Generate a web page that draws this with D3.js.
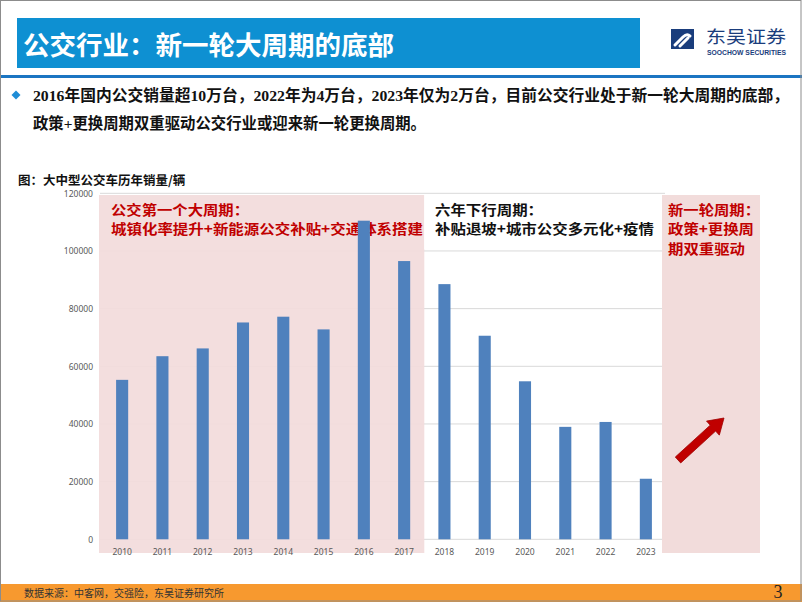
<!DOCTYPE html>
<html><head><meta charset="utf-8">
<script src="https://cdn.jsdelivr.net/npm/d3@7"></script>
<style>body{margin:0;background:#fff}svg{display:block}</style>
</head><body>
<svg id="c" width="802" height="602"></svg>
<script>
const years = ["2010","2011","2012","2013","2014","2015","2016","2017","2018","2019","2020","2021","2022","2023"];
const sales = [55300,63500,66200,75200,77200,72800,110500,96500,88500,70600,54800,39000,40700,21000];
const yTicks = [0,20000,40000,60000,80000,100000,120000];
const titleText = "公交行业：新一轮大周期的底部";
const bulletLines = ["2016年国内公交销量超10万台，2022年为4万台，2023年仅为2万台，目前公交行业处于新一轮大周期的底部，","政策+更换周期双重驱动公交行业或迎来新一轮更换周期。"];
const caption = "图：大中型公交车历年销量/辆";
const note1 = ["公交第一个大周期：","城镇化率提升+新能源公交补贴+交通体系搭建"];
const note1Widths = [138, 312];
const note2 = ["六年下行周期：","补贴退坡+城市公交多元化+疫情"];
const note2Widths = [108, 219];
const note3 = ["新一轮周期：","政策+更换周","期双重驱动"];
const note3Widths = [92, 86, 77];
const source = "数据来源：中客网，交强险，东吴证券研究所";

const svg = d3.select("#c");
const CJK = "'Noto Sans CJK SC','Noto Sans',sans-serif";
const MIX = "'Liberation Serif','Noto Sans CJK SC',serif";

svg.append("rect").attr("width",802).attr("height",602).attr("fill","#fff");

// header
svg.append("rect").attr("x",17).attr("y",18).attr("width",623).attr("height",50).attr("fill","#0e90d2");
svg.append("text").attr("x",23).attr("y",55).attr("font-family",CJK).attr("font-weight","bold")
  .attr("font-size",26.5).attr("fill","#fff").text(titleText);
svg.append("rect").attr("x",0).attr("y",75).attr("width",802).attr("height",3).attr("fill","#1b75c2");

// logo
const lg = svg.append("g");
lg.append("rect").attr("x",671).attr("y",29).attr("width",23).attr("height",20).attr("fill","#1a3d7c");
lg.append("path").attr("d","M675,45 L683,37 Q687,33 690,36 M680,46 L688,38")
  .attr("fill","none").attr("stroke","#fff").attr("stroke-width",3).attr("stroke-linecap","round");
lg.append("text").attr("x",706).attr("y",42.5).attr("font-family",CJK).attr("font-size",17.5).attr("fill","#1a3d7c")
  .attr("textLength",80).attr("lengthAdjust","spacingAndGlyphs").text("东吴证券");
lg.append("text").attr("x",707).attr("y",54.5).attr("font-family","'Liberation Sans',sans-serif").attr("font-weight","bold")
  .attr("font-size",6.5).attr("fill","#1a3d7c").attr("textLength",79).attr("lengthAdjust","spacingAndGlyphs").text("SOOCHOW SECURITIES");

// bullet
svg.append("path").attr("d","M16,90.5 L20.5,95 L16,99.5 L11.5,95 Z").attr("fill","#1f8dd6");
svg.append("text").attr("x",33).attr("y",101).attr("font-family",MIX).attr("font-weight","bold")
  .attr("font-size",15.5).attr("fill","#111").attr("textLength",756).attr("lengthAdjust","spacingAndGlyphs").text(bulletLines[0]);
svg.append("text").attr("x",33).attr("y",129).attr("font-family",MIX).attr("font-weight","bold")
  .attr("font-size",15.5).attr("fill","#111").attr("textLength",393).attr("lengthAdjust","spacingAndGlyphs").text(bulletLines[1]);

svg.append("text").attr("x",18).attr("y",184.5).attr("font-family",CJK).attr("font-weight","bold")
  .attr("font-size",12.5).attr("fill","#111").text(caption);

// chart
const x = d3.scaleBand().domain(years).range([102,666]).paddingInner(0.7).paddingOuter(0.35);
const y = d3.scaleLinear().domain([0,120000]).range([539.3,193.3]);

svg.append("g").selectAll("line").data(yTicks).join("line")
  .attr("x1",100).attr("x2",665).attr("y1",d=>y(d)).attr("y2",d=>y(d))
  .attr("stroke","#d9d9d9").attr("stroke-width",1);

const step = x.step();
const b1x0 = 99, b1x1 = x("2017") + x.bandwidth()/2 + step/2;
svg.append("rect").attr("x",b1x0).attr("y",195).attr("width",b1x1-b1x0).attr("height",358)
  .attr("fill","#f2dcdb").attr("opacity",0.93);
const b2x0 = x("2023") + x.bandwidth()/2 + step/2 - 4;
svg.append("rect").attr("x",b2x0).attr("y",195).attr("width",98).attr("height",358)
  .attr("fill","#f2dcdb");

function note(lines, widths, x0, y0, color){
  lines.forEach((s,i)=>{
    svg.append("text").attr("x",x0).attr("y",y0+i*19.6).attr("font-family",CJK).attr("font-weight","bold")
      .attr("font-size",13.5).attr("fill",color)
      .attr("textLength",widths[i]).attr("lengthAdjust","spacingAndGlyphs").text(s);
  });
}
note(note1, note1Widths, 111, 214.5, "#c00000");

// bars
svg.append("g").selectAll("rect").data(years).join("rect")
  .attr("x",(d)=>x(d)).attr("width",x.bandwidth())
  .attr("y",(d,i)=>y(sales[i])).attr("height",(d,i)=>y(0)-y(sales[i]))
  .attr("fill","#4f81bd");

// axes labels
const yAxis = d3.axisLeft(y).tickValues(yTicks).tickSize(0).tickPadding(0).tickFormat(d3.format("d"));
const ya = svg.append("g").attr("transform","translate(93,0)").call(yAxis);
ya.select(".domain").remove();
ya.selectAll("text").attr("font-family","'Noto Sans',sans-serif").attr("font-size",8.5).attr("fill","#595959");

const xAxis = d3.axisBottom(x).tickSize(0).tickPadding(0);
const xa = svg.append("g").attr("transform","translate(0,549)").call(xAxis);
xa.select(".domain").remove();
xa.selectAll("text").attr("font-family","'Noto Sans',sans-serif").attr("font-size",8.5).attr("fill","#595959");

svg.append("rect").attr("x",b1x1).attr("y",194).attr("width",b2x0-b1x1).attr("height",55).attr("fill","#fff");
note(note2, note2Widths, 435, 214.5, "#111");
note(note3, note3Widths, 668, 214.5, "#c00000");

// arrow
const ax0=678, ay0=460, ax1=724, ay1=418;
const ang = Math.atan2(ay1-ay0, ax1-ax0);
const L = Math.hypot(ax1-ax0, ay1-ay0);
const hw=4, hh=9.5, hl=15;
const pts = [[0,-hw],[L-hl,-hw],[L-hl,-hh],[L,0],[L-hl,hh],[L-hl,hw],[0,hw]]
  .map(([u,v])=>[ax0+u*Math.cos(ang)-v*Math.sin(ang), ay0+u*Math.sin(ang)+v*Math.cos(ang)]);
svg.append("polygon").attr("points",pts.map(p=>p.join(",")).join(" ")).attr("fill","#c00000")
  .attr("stroke","#a00000").attr("stroke-width",0.8);

// footer
svg.append("rect").attr("x",0).attr("y",584).attr("width",802).attr("height",18).attr("fill","#f7992f");
svg.append("text").attr("x",24).attr("y",597).attr("font-family",CJK).attr("font-size",10).attr("fill","#333").text(source);
svg.append("text").attr("x",778).attr("y",598).attr("text-anchor","middle").attr("font-family","'Liberation Serif',serif")
  .attr("font-size",18).attr("fill","#222").text("3");

// frame
svg.append("rect").attr("x",0.5).attr("y",0.5).attr("width",800.5).attr("height",600.5).attr("fill","none").attr("stroke","#8c8c8c");
</script>
</body></html>
